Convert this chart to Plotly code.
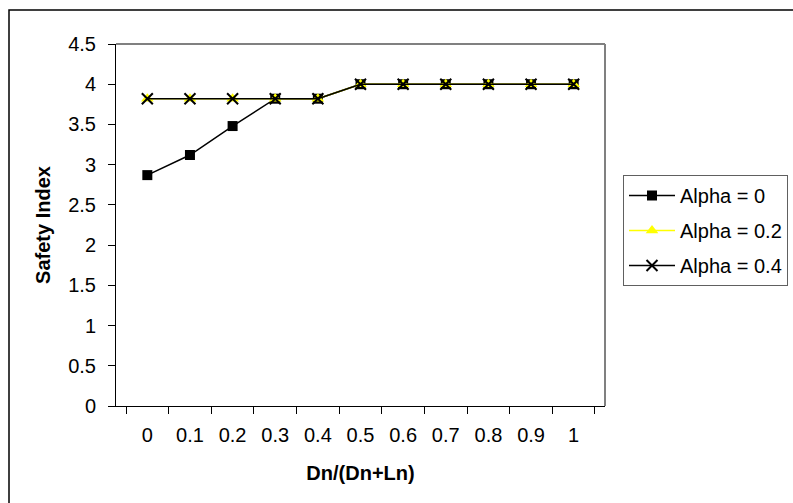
import plotly.graph_objects as go

categories = ["0", "0.1", "0.2", "0.3", "0.4", "0.5", "0.6", "0.7", "0.8", "0.9", "1"]
alpha_0 = [2.87, 3.12, 3.48, 3.82, 3.82, 4.0, 4.0, 4.0, 4.0, 4.0, 4.0]
alpha_02 = [3.82, 3.82, 3.82, 3.82, 3.82, 4.0, 4.0, 4.0, 4.0, 4.0, 4.0]
alpha_04 = [3.82, 3.82, 3.82, 3.82, 3.82, 4.0, 4.0, 4.0, 4.0, 4.0, 4.0]
y_ticks = [0, 0.5, 1, 1.5, 2, 2.5, 3, 3.5, 4, 4.5]

FONT = "Liberation Sans, Arial, sans-serif"
W, H = 793, 503
L, R, T, B = 116, 605, 44, 406

fig = go.Figure()
fig.add_trace(go.Scatter(
    x=categories, y=alpha_0, name="Alpha = 0", mode="lines+markers", legendgroup="a",
    line=dict(color="black", width=1.5),
    marker=dict(symbol="square", size=10, color="black"),
))
fig.add_trace(go.Scatter(
    x=categories, y=alpha_02, name="Alpha = 0.2", mode="lines+markers", legendgroup="b",
    line=dict(color="#FFFF00", width=1.5),
    marker=dict(symbol="triangle-up", size=11, color="#FFFF00"),
))
fig.add_trace(go.Scatter(
    x=categories, y=alpha_04, name="Alpha = 0.4", mode="lines+markers", legendgroup="c",
    line=dict(color="black", width=1.5),
    marker=dict(symbol="x-thin", size=11, color="black", line=dict(color="black", width=2)),
))

pw = R - L
ph = B - T

fig.update_layout(
    width=W, height=H,
    margin=dict(l=L, r=W - R, t=T, b=H - B, autoexpand=False),
    paper_bgcolor="white", plot_bgcolor="white",
    font=dict(family=FONT, size=20, color="black"),
    showlegend=True,
    legend=dict(
        x=(623 - L) / pw, xanchor="left",
        y=(B - 175) / ph, yanchor="top",
        bgcolor="white", bordercolor="#606060", borderwidth=1,
        font=dict(family=FONT, size=20, color="black"),
        itemwidth=46, tracegroupgap=6,
    ),
    xaxis=dict(
        type="category", tickson="boundaries", ticks="outside", ticklen=7,
        tickcolor="black", showline=True, linecolor="black", linewidth=1,
        showgrid=False, zeroline=False, ticklabelstandoff=11,
        title=dict(text="<b>Dn/(Dn+Ln)</b>", font=dict(family=FONT, size=20), standoff=20),
        tickfont=dict(family=FONT, size=20),
    ),
    yaxis=dict(
        range=[0, 4.5], tickvals=y_ticks, ticks="outside", ticklen=7,
        tickcolor="black", showline=True, linecolor="black", linewidth=1,
        showgrid=False, zeroline=False, ticklabelstandoff=8,
        title=dict(text="<b>Safety Index</b>", font=dict(family=FONT, size=20), standoff=12),
        tickfont=dict(family=FONT, size=20),
    ),
    shapes=[
        dict(type="line", xref="paper", yref="paper", x0=0, x1=1, y0=1, y1=1,
             line=dict(color="#808080", width=2)),
        dict(type="line", xref="paper", yref="paper", x0=1, x1=1, y0=0, y1=1,
             line=dict(color="#808080", width=2)),
        dict(type="rect", xref="paper", yref="paper",
             x0=(9 - L) / pw, x1=(W + 20 - L) / pw,
             y0=(B - (H + 20)) / ph, y1=(B - 10) / ph,
             line=dict(color="black", width=1.5), layer="below"),
    ],
)

fig.write_html("out.html")
